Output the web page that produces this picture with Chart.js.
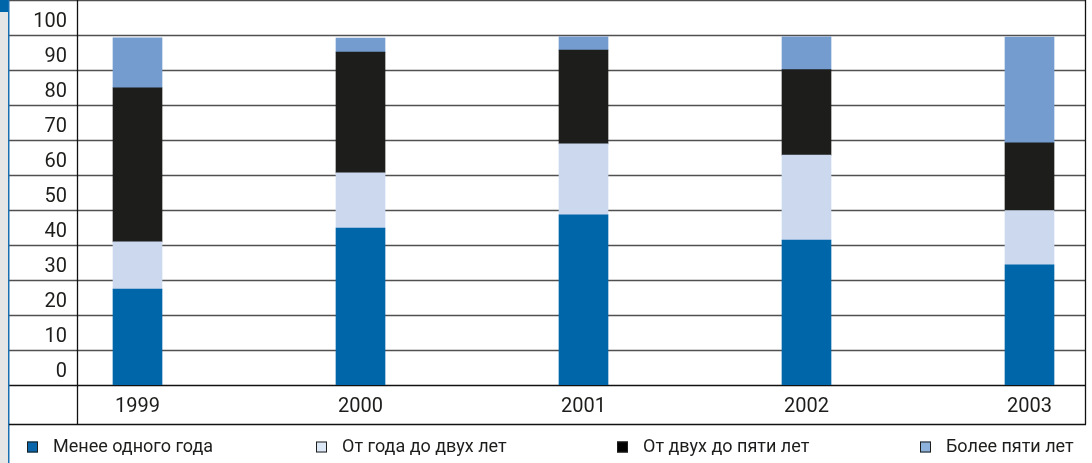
<!DOCTYPE html>
<html>
<head>
<meta charset="utf-8">
<script src="https://cdn.jsdelivr.net/npm/chart.js@4.4.0/dist/chart.umd.min.js"></script>
<style>
html, body { margin: 0; padding: 0; background: #fff; }
#wrap { width: 1092px; height: 463px; }
</style>
</head>
<body>
<div id="wrap"><canvas id="myChart" width="1092" height="463"></canvas></div>
<script>
// data (percent)
var years = ['1999', '2000', '2001', '2002', '2003'];
var seriesNames = ['Менее одного года', 'От года до двух лет', 'От двух до пяти лет', 'Более пяти лет'];
var lessThanOne = [27.4, 44.8, 48.6, 41.4, 34.3];
var oneToTwo = [13.5, 15.8, 20.3, 24.3, 15.5];
var twoToFive = [44.0, 34.5, 26.8, 24.4, 19.4];
var moreThanFive = [14.3, 4.0, 3.8, 9.4, 30.2];
var yTicks = [0, 10, 20, 30, 40, 50, 60, 70, 80, 90, 100];

var colors = ['#0066aa', '#cbd8ee', '#1d1d1b', '#759ccf'];
var legendFill = ['#0a66aa', '#dce8f5', '#000000', '#8db3dd'];
var FONT = "Roboto, 'Liberation Sans', sans-serif";

function points(arr) {
    return arr.map(function (v, i) { return { x: i, y: v }; });
}

var series = [lessThanOne, oneToTwo, twoToFive, moreThanFive];
var datasets = series.map(function (arr, k) {
    return {
        label: seriesNames[k],
        data: points(arr),
        backgroundColor: colors[k],
        borderWidth: 0,
        barThickness: 49
    };
});

var framePlugin = {
    id: 'frame',
    beforeDatasetsDraw: function (chart) {
        var ctx = chart.ctx, area = chart.chartArea, y = chart.scales.y;
        ctx.save();
        var vals = yTicks.concat([110]);
        vals.forEach(function (v) {
            var py = Math.round(y.getPixelForValue(v)) + 0.5;
            ctx.strokeStyle = v === 0 ? '#111' : '#505050';
            ctx.lineWidth = v === 0 ? 1.5 : 1.4;
            ctx.beginPath();
            ctx.moveTo(9, py);
            ctx.lineTo(area.right, py);
            ctx.stroke();
        });
        ctx.restore();
    },
    afterDraw: function (chart) {
        var ctx = chart.ctx, area = chart.chartArea;
        var bottom = 424.5;
        ctx.save();
        // left strip
        ctx.fillStyle = '#e6e6e6';
        ctx.fillRect(0, 0, 8, 463);
        ctx.fillStyle = '#0066aa';
        ctx.fillRect(0, 0, 8, 12);
        ctx.strokeStyle = '#1a6fb0';
        ctx.lineWidth = 1.5;
        ctx.beginPath();
        ctx.moveTo(8.75, 0);
        ctx.lineTo(8.75, 463);
        ctx.stroke();
        // table lines
        ctx.strokeStyle = '#111';
        ctx.lineWidth = 1.3;
        ctx.beginPath();
        ctx.moveTo(area.left - 0.5, 0);
        ctx.lineTo(area.left - 0.5, bottom);
        ctx.moveTo(area.right - 0.5, 0);
        ctx.lineTo(area.right - 0.5, bottom);
        ctx.moveTo(9, bottom);
        ctx.lineTo(area.right, bottom);
        ctx.stroke();
        // legend
        var xs = [27, 316, 617, 920];
        var cy = 447;
        ctx.font = '18px ' + FONT;
        ctx.textBaseline = 'middle';
        chart.data.datasets.forEach(function (ds, k) {
            ctx.fillStyle = legendFill[k];
            ctx.fillRect(xs[k], cy - 5.5, 11, 11);
            ctx.strokeStyle = '#1d1d1b';
            ctx.lineWidth = 1;
            ctx.strokeRect(xs[k] + 0.5, cy - 5, 10, 10);
            ctx.fillStyle = '#1d1d1b';
            ctx.fillText(ds.label, xs[k] + 26, cy);
        });
        ctx.restore();
    }
};

function noMargins(scale) {
    scale.paddingTop = 0;
    scale.paddingBottom = 0;
    scale.paddingLeft = 0;
    scale.paddingRight = 0;
}

var ctx = document.getElementById('myChart').getContext('2d');
var chart = new Chart(ctx, {
    type: 'bar',
    data: { datasets: datasets },
    options: {
        responsive: false,
        animation: false,
        layout: { padding: { left: 9, right: 6, top: 0, bottom: 38 } },
        plugins: {
            legend: { display: false },
            tooltip: { enabled: false }
        },
        scales: {
            x: {
                type: 'linear',
                stacked: true,
                offset: false,
                min: (78 - 137.5) / 223,
                max: (1086 - 137.5) / 223,
                afterBuildTicks: function (scale) {
                    scale.ticks = years.map(function (_, i) { return { value: i }; });
                },
                afterFit: function (scale) { scale.height = 40; noMargins(scale); },
                grid: { display: false, drawTicks: false },
                border: { display: false },
                ticks: {
                    padding: 10,
                    maxRotation: 0,
                    color: '#1d1d1b',
                    font: { family: FONT, size: 20 },
                    callback: function (v) { return years[v]; }
                }
            },
            y: {
                stacked: true,
                min: 0,
                max: 110,
                afterBuildTicks: function (scale) {
                    scale.ticks = yTicks.map(function (v) { return { value: v }; });
                },
                afterFit: function (scale) { scale.width = 69; noMargins(scale); },
                grid: { display: false, drawTicks: false },
                border: { display: false },
                ticks: {
                    padding: 11,
                    labelOffset: -13,
                    color: '#1d1d1b',
                    font: { family: FONT, size: 20 }
                }
            }
        }
    },
    plugins: [framePlugin]
});
</script>
</body>
</html>
